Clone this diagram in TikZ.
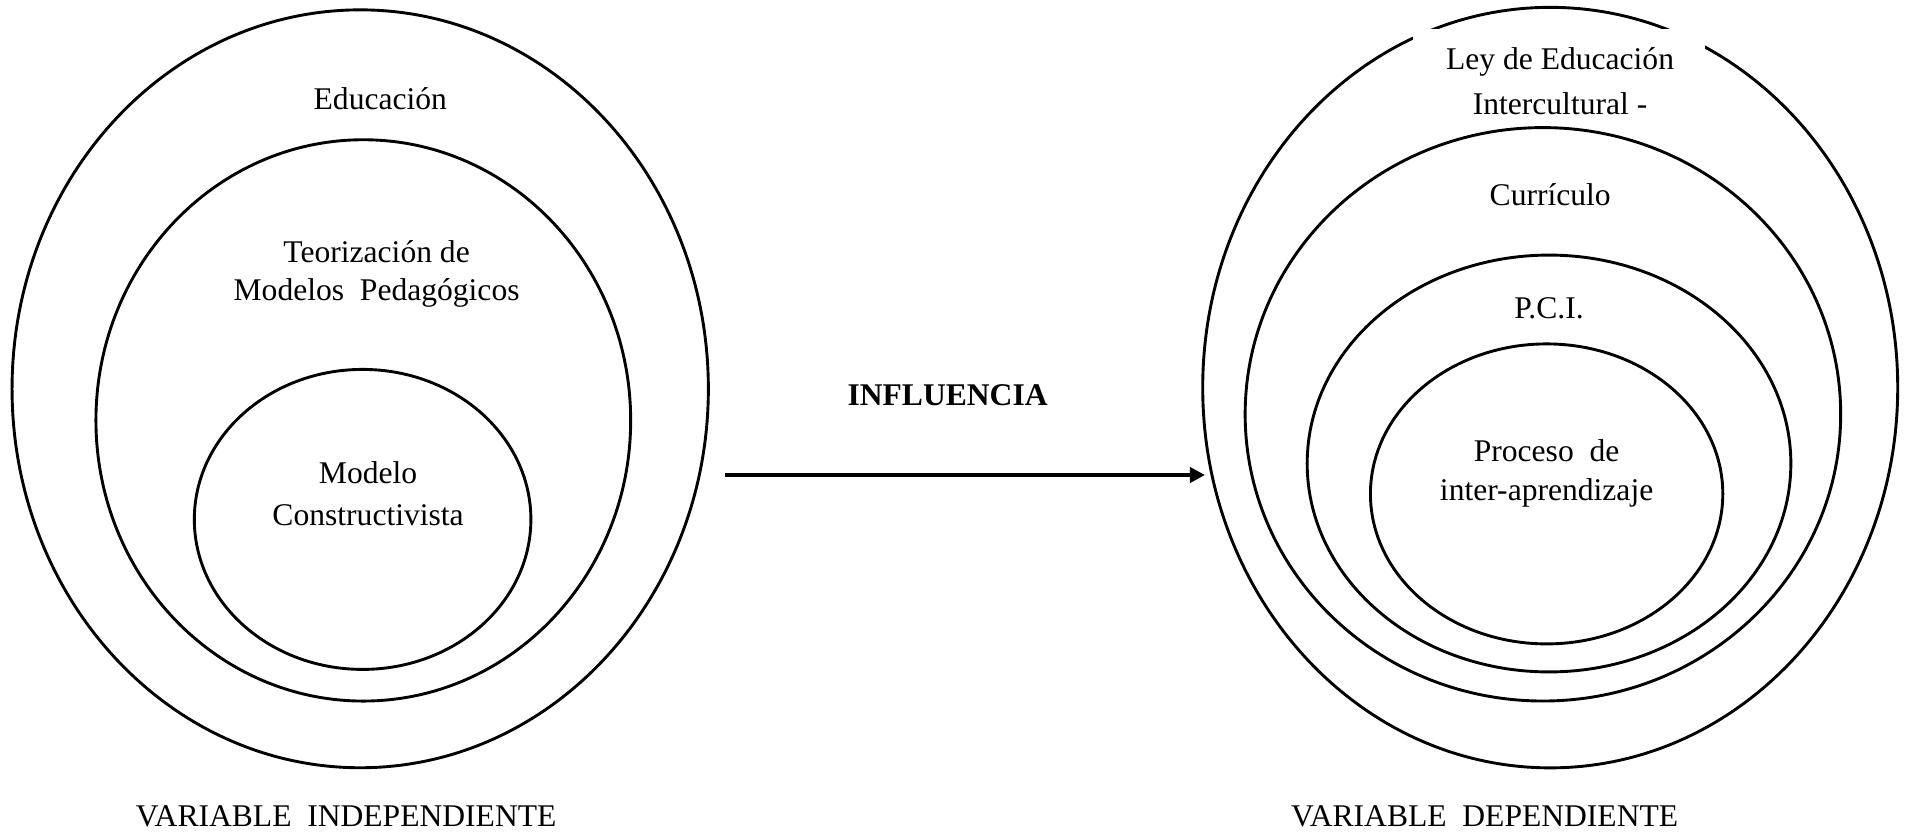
\documentclass[tikz,border=0pt]{standalone}
\usepackage{fontspec}
\setmainfont{Liberation Serif}
\usetikzlibrary{shapes.geometric,arrows.meta}
\begin{document}
\begin{tikzpicture}[x=0.38pt,y=-0.38pt,
  ring/.style={draw,ellipse,line width=1.1pt,inner sep=0pt},
  lbl/.style={font=\fontsize{12}{14}\selectfont,inner sep=0pt},
  mask/.style={fill=white,draw=none}]
\useasboundingbox (0,0) rectangle (1905,834);
% left group
\node[ring,minimum width=264.6pt,minimum height=288pt] (L1) at (360.2,388.8) {};
\node[ring,minimum width=203.2pt,minimum height=213.3pt] (L2) at (363.3,420.4) {};
\node[ring,minimum width=127.9pt,minimum height=114pt] (L3) at (362.6,519.4) {};
\node[lbl] (t1) at (380.3,98.4) {Educación};
\node[lbl] (t2) at (376.6,251.5) {Teorización de};
\node[lbl] (t3) at (376.6,292.8) {Modelos\ \ Pedagógicos};
\node[lbl] (t4) at (368.1,472.6) {Modelo};
\node[lbl] (t5) at (368.1,515.1) {Constructivista};
\node[lbl] (vi) at (346.2,816.4) {VARIABLE\ \ INDEPENDIENTE};
% right group
\node[ring,minimum width=264.1pt,minimum height=289pt] (R1) at (1550.2,387.6) {};
\node[mask,minimum width=111pt,minimum height=34pt,inner sep=0pt] (mk) at (1559,74) {};
\node[ring,minimum width=226.3pt,minimum height=217.9pt] (R2) at (1542.9,414.3) {};
\node[ring,minimum width=183.8pt,minimum height=158.4pt] (R3) at (1549,463.5) {};
\node[ring,minimum width=133.9pt,minimum height=114pt] (R4) at (1546.6,493.9) {};
\node[lbl] (r1) at (1560,62) {Ley de Educación};
\node[lbl] (r2) at (1560,103.3) {Intercultural -};
\node[lbl] (r3) at (1550.2,194.4) {Currículo};
\node[lbl] (r4) at (1549,308.6) {P.C.I.};
\node[lbl] (r5) at (1546.6,450.7) {Proceso\ \ de};
\node[lbl] (r6) at (1546.6,493.3) {inter-aprendizaje};
\node[lbl] (vd) at (1484.6,816.4) {VARIABLE\ \ DEPENDIENTE};
% arrow
\node[lbl,font=\fontsize{12}{14}\selectfont\bfseries] (inf) at (947.6,394.8) {INFLUENCIA};
\coordinate (a0) at (725.3,475);
\coordinate (a1) at (1205,475);
\draw[line width=1.5pt,-{Triangle[length=5.8pt,width=5.8pt]}] (a0) -- (a1);
\end{tikzpicture}
\end{document}
